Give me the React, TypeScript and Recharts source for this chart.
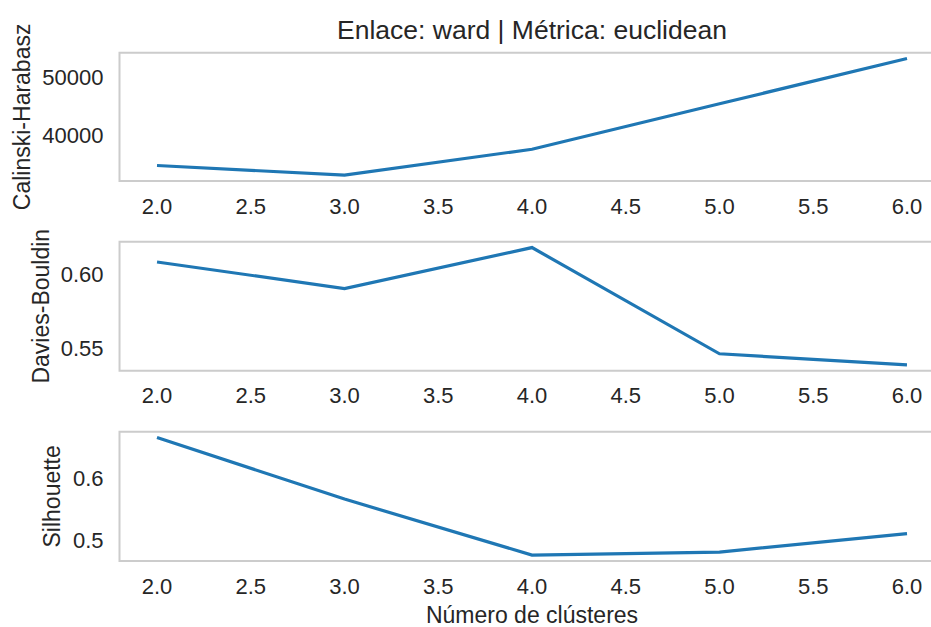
import React from "react";
import { LineChart, Line, XAxis, YAxis, ReferenceArea } from "recharts";

const clusters = [2, 3, 4, 5, 6];
const calinski = [34750, 33070, 37570, 45450, 53290];
const davies = [0.6084, 0.5904, 0.6182, 0.5461, 0.5386];
const silhouette = [0.6648, 0.5659, 0.4757, 0.4806, 0.5102];

const xTicks = [2, 2.5, 3, 3.5, 4, 4.5, 5, 5.5, 6];
const calinskiTicks = [40000, 50000];
const daviesTicks = [0.55, 0.6];
const silhouetteTicks = [0.5, 0.6];

const title = "Enlace: ward | Métrica: euclidean";
const xLabel = "Número de clústeres";
const yLabels = ["Calinski-Harabasz", "Davies-Bouldin", "Silhouette"];

const FONT = "'Liberation Sans', Arial, sans-serif";
const TEXT = "#262626";
const SPINE = "#cccccc";
const BLUE = "#1f77b4";

function pad(vals: number[]): [number, number] {
  const mn = Math.min(...vals);
  const mx = Math.max(...vals);
  const r = mx - mn;
  return [mn - 0.05 * r, mx + 0.05 * r];
}

const xDomain = pad(clusters);

type PanelProps = {
  values: number[];
  ticks: number[];
  fmt: (v: number) => string;
  top: number;
  marginTop: number;
  plotHeight: number;
};

function Panel({ values, ticks, fmt, top, marginTop, plotHeight }: PanelProps) {
  const data = clusters.map((k, i) => ({ k, v: values[i] }));
  const yDomain = pad(values);
  const height = marginTop + plotHeight + 40;
  return (
    <div style={{ position: "absolute", left: 0, top }}>
      <LineChart
        width={960}
        height={height}
        data={data}
        margin={{ top: marginTop, right: 15.5, bottom: 0, left: 0 }}
      >
        <XAxis
          dataKey="k"
          type="number"
          domain={xDomain}
          ticks={xTicks}
          allowDataOverflow
          tickFormatter={(v: number) => v.toFixed(1)}
          tickLine={false}
          tickSize={0}
          tickMargin={17}
          height={40}
          axisLine={false}
          tick={{ fill: TEXT, fontSize: 22, fontFamily: FONT }}
        />
        <YAxis
          type="number"
          domain={yDomain}
          ticks={ticks}
          allowDataOverflow
          tickFormatter={fmt}
          width={119.5}
          tickLine={false}
          tickSize={0}
          tickMargin={16}
          axisLine={false}
          tick={{ fill: TEXT, fontSize: 22, fontFamily: FONT }}
        />
        <ReferenceArea
          x1={xDomain[0]}
          x2={xDomain[1]}
          y1={yDomain[0]}
          y2={yDomain[1]}
          fill="none"
          stroke={SPINE}
          strokeWidth={2}
          ifOverflow="visible"
        />
        <Line
          type="linear"
          dataKey="v"
          stroke={BLUE}
          strokeWidth={3.2}
          dot={false}
          activeDot={false}
          isAnimationActive={false}
        />
      </LineChart>
    </div>
  );
}

export default function App() {
  const frames = [
    { top: 52.7, bottom: 181 },
    { top: 241.7, bottom: 370.7 },
    { top: 431.7, bottom: 561 },
  ];
  const labelX = [30, 49, 60.5];
  return (
    <div
      style={{
        position: "absolute",
        left: 0,
        top: 0,
        width: 931,
        height: 627,
        overflow: "hidden",
        background: "#ffffff",
      }}
    >
      <Panel values={calinski} ticks={calinskiTicks} fmt={(v) => String(v)} top={0} marginTop={52.7} plotHeight={128.3} />
      <Panel values={davies} ticks={daviesTicks} fmt={(v) => v.toFixed(2)} top={230} marginTop={11.7} plotHeight={129} />
      <Panel values={silhouette} ticks={silhouetteTicks} fmt={(v) => v.toFixed(1)} top={420} marginTop={11.7} plotHeight={129.3} />
      <svg
        width={931}
        height={627}
        style={{ position: "absolute", left: 0, top: 0, pointerEvents: "none" }}
      >
        <text x={532} y={39} textAnchor="middle" fill={TEXT} fontSize={26.5} fontFamily={FONT}>
          {title}
        </text>
        <text x={532} y={623} textAnchor="middle" fill={TEXT} fontSize={23} fontFamily={FONT}>
          {xLabel}
        </text>
        {yLabels.map((lab, i) => {
          const cy = (frames[i].top + frames[i].bottom) / 2;
          const bx = labelX[i];
          return (
            <text
              key={lab}
              x={bx}
              y={cy}
              transform={`rotate(-90, ${bx}, ${cy})`}
              textAnchor="middle"
              fill={TEXT}
              fontSize={23}
              fontFamily={FONT}
            >
              {lab}
            </text>
          );
        })}
      </svg>
    </div>
  );
}
